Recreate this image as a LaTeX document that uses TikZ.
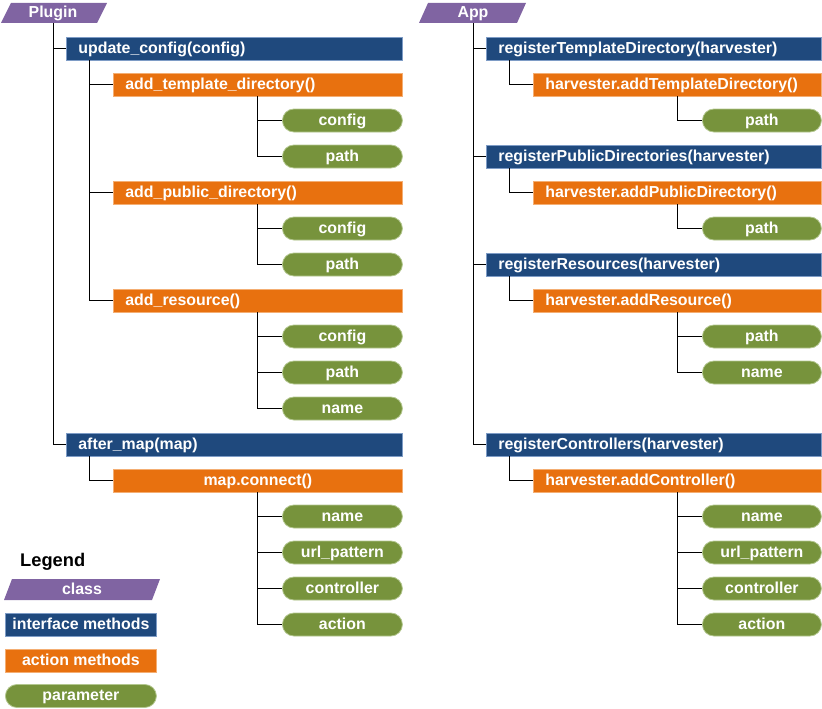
\documentclass[tikz,border=0pt]{standalone}
\usepackage{fontspec}
\setmainfont{Liberation Sans}
\definecolor{cpurple}{HTML}{8064A2}
\definecolor{cblue}{HTML}{1F497D}
\definecolor{cblueb}{HTML}{7E9CC6}
\definecolor{corange}{HTML}{E8710F}
\definecolor{corangeb}{HTML}{F4AE73}
\definecolor{cgreen}{HTML}{77933C}
\definecolor{cgreenb}{HTML}{B3C78F}
\begin{document}
\begin{tikzpicture}[x=1pt,y=-1pt,
  every node/.style={font=\fontsize{15.9}{18}\bfseries\selectfont, text=white, inner ysep=0pt, minimum height=23pt, text height=12pt, text depth=2.8pt},
  ibox/.style={rectangle, fill=cblue, draw=cblueb, line width=0.8pt, inner xsep=12pt, anchor=west, align=left, text width=#1},
  abox/.style={rectangle, fill=corange, draw=corangeb, line width=0.8pt, inner xsep=12pt, anchor=west, align=left, text width=#1},
  pill/.style={rectangle, rounded corners=11.5pt, fill=cgreen, draw=cgreenb, line width=0.8pt, minimum width=#1, anchor=west, inner xsep=0pt},
  cls/.style={inner sep=0pt, minimum height=20pt},
  conn/.style={draw=black, line width=1pt}]
\useasboundingbox (0,0) rectangle (822,709);

% class shapes
\fill[cpurple] (1,23) -- (97,23) -- (107,3) -- (11,3) -- cycle;
\fill[cpurple] (419,23) -- (517,23) -- (526,3) -- (428,3) -- cycle;
\fill[cpurple] (4,600) -- (152,600) -- (160,579) -- (12,579) -- cycle;

\node[cls] (plugin) at (53,13) {Plugin};
\node[cls] (app) at (473,13) {App};

% ---------- left tree ----------
\node[ibox=312pt] (uc) at (66,48.5) {update\_config(config)};
\node[abox=265pt] (atd) at (113,84.5) {add\_template\_directory()};
\node[pill=120pt] (p1) at (282,120.5) {config};
\node[pill=120pt] (p2) at (282,156.5) {path};
\node[abox=265pt] (apd) at (113,192.5) {add\_public\_directory()};
\node[pill=120pt] (p3) at (282,228.5) {config};
\node[pill=120pt] (p4) at (282,264.5) {path};
\node[abox=265pt] (ar) at (113,300.5) {add\_resource()};
\node[pill=120pt] (p5) at (282,336.5) {config};
\node[pill=120pt] (p6) at (282,372.5) {path};
\node[pill=120pt] (p7) at (282,408.5) {name};
\node[ibox=312pt] (am) at (66,444.5) {after\_map(map)};
\node[abox=265pt, align=center] (mc) at (113,480.5) {map.connect()};
\node[pill=120pt] (p8) at (282,516.5) {name};
\node[pill=120pt] (p9) at (282,552.5) {url\_pattern};
\node[pill=120pt] (p10) at (282,588.5) {controller};
\node[pill=120pt] (p11) at (282,624.5) {action};

% ---------- right tree ----------
\node[ibox=311pt] (rtd) at (486,48.5) {registerTemplateDirectory(harvester)};
\node[abox=264pt] (hatd) at (533,84.5) {harvester.addTemplateDirectory()};
\node[pill=119pt] (q1) at (702,120.5) {path};
\node[ibox=311pt] (rpd) at (486,156.5) {registerPublicDirectories(harvester)};
\node[abox=264pt] (hapd) at (533,192.5) {harvester.addPublicDirectory()};
\node[pill=119pt] (q2) at (702,228.5) {path};
\node[ibox=311pt] (rr) at (486,264.5) {registerResources(harvester)};
\node[abox=264pt] (har) at (533,300.5) {harvester.addResource()};
\node[pill=119pt] (q3) at (702,336.5) {path};
\node[pill=119pt] (q4) at (702,372.5) {name};
\node[ibox=311pt] (rc) at (486,444.5) {registerControllers(harvester)};
\node[abox=264pt] (hac) at (533,480.5) {harvester.addController()};
\node[pill=119pt] (q5) at (702,516.5) {name};
\node[pill=119pt] (q6) at (702,552.5) {url\_pattern};
\node[pill=119pt] (q7) at (702,588.5) {controller};
\node[pill=119pt] (q8) at (702,624.5) {action};

% ---------- legend ----------
\node[text=black, font=\fontsize{18.3}{20}\bfseries\selectfont, anchor=west, inner xsep=0pt, text height=13.5pt, text depth=3.5pt] (leg) at (20,561) {Legend};
\node[cls] (lcls) at (82,589.5) {class};
\node[rectangle, fill=cblue, draw=cblueb, line width=0.8pt, minimum width=151pt, inner xsep=0pt, anchor=west] (lif) at (5,624.5) {interface methods};
\node[rectangle, fill=corange, draw=corangeb, line width=0.8pt, minimum width=151pt, inner xsep=0pt, anchor=west] (lam) at (5,660.5) {action methods};
\node[pill=151pt] (lpar) at (5,696) {parameter};

% ---------- connectors left ----------
\draw[conn] (plugin.south) |- (am.west);
\draw[conn] (plugin.south |- uc.west) -- (uc.west);
\draw[conn] ([xshift=23pt]uc.south west) |- (ar.west);
\draw[conn] ([xshift=23pt]uc.south west |- atd.west) -- (atd.west);
\draw[conn] ([xshift=23pt]uc.south west |- apd.west) -- (apd.west);
\draw[conn] ([xshift=144pt]atd.south west) |- (p2.west);
\draw[conn] ([xshift=144pt]atd.south west |- p1.west) -- (p1.west);
\draw[conn] ([xshift=144pt]apd.south west) |- (p4.west);
\draw[conn] ([xshift=144pt]apd.south west |- p3.west) -- (p3.west);
\draw[conn] ([xshift=144pt]ar.south west) |- (p7.west);
\draw[conn] ([xshift=144pt]ar.south west |- p5.west) -- (p5.west);
\draw[conn] ([xshift=144pt]ar.south west |- p6.west) -- (p6.west);
\draw[conn] ([xshift=23pt]am.south west) |- (mc.west);
\draw[conn] ([xshift=144pt]mc.south west) |- (p11.west);
\draw[conn] ([xshift=144pt]mc.south west |- p8.west) -- (p8.west);
\draw[conn] ([xshift=144pt]mc.south west |- p9.west) -- (p9.west);
\draw[conn] ([xshift=144pt]mc.south west |- p10.west) -- (p10.west);

% ---------- connectors right ----------
\draw[conn] (app.south) |- (rc.west);
\draw[conn] (app.south |- rtd.west) -- (rtd.west);
\draw[conn] (app.south |- rpd.west) -- (rpd.west);
\draw[conn] (app.south |- rr.west) -- (rr.west);
\draw[conn] ([xshift=23pt]rtd.south west) |- (hatd.west);
\draw[conn] ([xshift=144pt]hatd.south west) |- (q1.west);
\draw[conn] ([xshift=23pt]rpd.south west) |- (hapd.west);
\draw[conn] ([xshift=144pt]hapd.south west) |- (q2.west);
\draw[conn] ([xshift=23pt]rr.south west) |- (har.west);
\draw[conn] ([xshift=144pt]har.south west) |- (q4.west);
\draw[conn] ([xshift=144pt]har.south west |- q3.west) -- (q3.west);
\draw[conn] ([xshift=23pt]rc.south west) |- (hac.west);
\draw[conn] ([xshift=144pt]hac.south west) |- (q8.west);
\draw[conn] ([xshift=144pt]hac.south west |- q5.west) -- (q5.west);
\draw[conn] ([xshift=144pt]hac.south west |- q6.west) -- (q6.west);
\draw[conn] ([xshift=144pt]hac.south west |- q7.west) -- (q7.west);
\end{tikzpicture}
\end{document}
